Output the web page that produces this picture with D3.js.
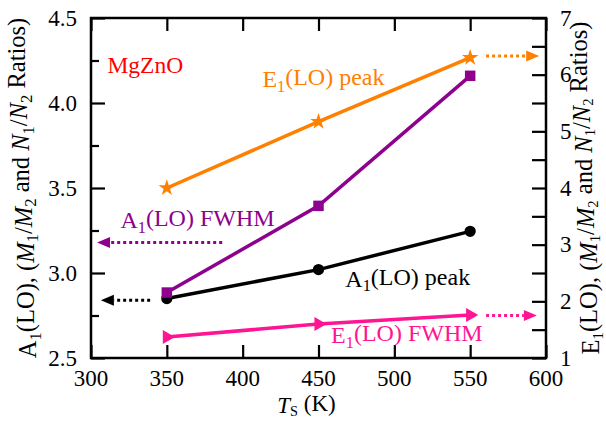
<!DOCTYPE html>
<html><head><meta charset="utf-8">
<script src="https://cdn.jsdelivr.net/npm/d3@7"></script>
<style>body{margin:0;background:#fff} svg text{font-family:"Liberation Serif","Times New Roman",serif}</style></head>
<body><script>
// Substrate temperature (K)
const temps = [350, 450, 550];
// Left-axis series
const a1Peak = [2.85, 3.02, 3.245];
const a1Fwhm = [2.885, 3.395, 4.16];
// Right-axis series
const e1Peak = [4.0, 5.17, 6.3];
const e1Fwhm = [1.37, 1.6, 1.76];
// Axis ticks
const xTicks = [300, 350, 400, 450, 500, 550, 600];
const leftTicks = [2.5, 3.0, 3.5, 4.0, 4.5];
const leftMinor = [2.75, 3.25, 3.75, 4.25];
const rightTicks = [1, 2, 3, 4, 5, 6, 7];
const rightMinor = [1.5, 2.5, 3.5, 4.5, 5.5, 6.5];

const W = 606, H = 421;
const m = {left: 91, right: 546, top: 18, bottom: 358};
const C = {orange: "#ff8000", purple: "#8e008e", pink: "#ff1493", red: "#ff0000", black: "#000"};

const x = d3.scaleLinear().domain([300, 600]).range([m.left, m.right]);
const yL = d3.scaleLinear().domain([2.5, 4.5]).range([m.bottom, m.top]);
const yR = d3.scaleLinear().domain([1, 7]).range([m.bottom, m.top]);

const svg = d3.select("body").append("svg")
  .attr("width", W).attr("height", H);

// text with subscripts / italics
function rich(sel, parts, subSize, subShift) {
  let shift = 0;
  const down = subShift == null ? 0.28 : subShift;
  parts.forEach(p => {
    const target = p.sub ? down : 0;
    const ts = sel.append("tspan").text(p.t).attr("dy", (target - shift) + "em");
    if (p.sub) ts.attr("font-size", subSize || "68%");
    if (p.it) ts.attr("font-style", "italic");
    shift = target;
  });
  return sel;
}

// axes (ticks pointing inward, mirrored on top)
function tickAxis(axis, sel) { sel.call(axis); sel.select(".domain").remove(); sel.selectAll("text").remove(); }
const tickStyle = g => g.selectAll("line").attr("stroke", "#000").attr("stroke-width", 2.2);

svg.append("g").attr("transform", `translate(0,${m.bottom})`)
  .call(g => tickAxis(d3.axisTop(x).tickValues(xTicks).tickSize(13), g)).call(tickStyle);
svg.append("g").attr("transform", `translate(0,${m.top})`)
  .call(g => tickAxis(d3.axisBottom(x).tickValues(xTicks).tickSize(13), g)).call(tickStyle);
svg.append("g").attr("transform", `translate(${m.left},0)`)
  .call(g => tickAxis(d3.axisRight(yL).tickValues(leftTicks).tickSize(14), g)).call(tickStyle);
svg.append("g").attr("transform", `translate(${m.left},0)`)
  .call(g => tickAxis(d3.axisRight(yL).tickValues(leftMinor).tickSize(8), g)).call(tickStyle);
svg.append("g").attr("transform", `translate(${m.right},0)`)
  .call(g => tickAxis(d3.axisLeft(yR).tickValues(rightTicks).tickSize(14), g)).call(tickStyle);
svg.append("g").attr("transform", `translate(${m.right},0)`)
  .call(g => tickAxis(d3.axisLeft(yR).tickValues(rightMinor).tickSize(14), g)).call(tickStyle);

// frame
svg.append("rect").attr("x", m.left).attr("y", m.top)
  .attr("width", m.right - m.left).attr("height", m.bottom - m.top)
  .attr("fill", "none").attr("stroke", "#000").attr("stroke-width", 2.5);

// tick labels
svg.append("g").selectAll("text").data(xTicks).join("text")
  .attr("x", d => x(d)).attr("y", 386).attr("text-anchor", "middle")
  .attr("font-size", 23).text(d => d);
svg.append("g").selectAll("text").data(leftTicks).join("text")
  .attr("x", 77).attr("y", d => yL(d)).attr("dy", "0.33em").attr("text-anchor", "end")
  .attr("font-size", 23).text(d3.format(".1f"));
svg.append("g").selectAll("text").data(rightTicks).join("text")
  .attr("x", 560).attr("y", d => yR(d)).attr("dy", "0.33em").attr("text-anchor", "start")
  .attr("font-size", 23).text(d => d);

// axis titles
const ratioParts = [{t: ", ("}, {t: "M", it: true}, {t: "1", sub: true}, {t: "/"}, {t: "M", it: true},
  {t: "2", sub: true}, {t: " and "}, {t: "N", it: true}, {t: "1", sub: true}, {t: "/"}, {t: "N", it: true},
  {t: "2", sub: true}, {t: " Ratios)"}];
rich(svg.append("text").attr("transform", `translate(36,${(m.top + m.bottom) / 2}) rotate(-90)`)
  .attr("text-anchor", "middle").attr("font-size", 24.5),
  [{t: "A"}, {t: "1", sub: true}, {t: "(LO)"}].concat(ratioParts));
rich(svg.append("text").attr("transform", `translate(599,${(m.top + m.bottom) / 2}) rotate(-90)`)
  .attr("text-anchor", "middle").attr("font-size", 24.5),
  [{t: "E"}, {t: "1", sub: true}, {t: "(LO)"}].concat(ratioParts), "60%", 0.24);
rich(svg.append("text").attr("x", (m.left + m.right) / 2 - 12).attr("y", 413)
  .attr("text-anchor", "middle").attr("font-size", 23),
  [{t: "T", it: true}, {t: "S", sub: true}, {t: " (K)"}], "62%", 0.2);

// series
const series = [
  {vals: a1Peak, y: yL, color: C.black, sym: d3.symbolCircle, size: 100, rot: 0},
  {vals: a1Fwhm, y: yL, color: C.purple, sym: d3.symbolSquare, size: 110, rot: 0},
  {vals: e1Fwhm, y: yR, color: C.pink, sym: d3.symbolTriangle, size: 85, rot: 90},
  {vals: e1Peak, y: yR, color: C.orange, sym: d3.symbolStar, size: 85, rot: 0},
];
series.forEach(s => {
  const pts = temps.map((t, i) => [x(t), s.y(s.vals[i])]);
  svg.append("path").attr("d", d3.line()(pts))
    .attr("fill", "none").attr("stroke", s.color).attr("stroke-width", 3.5);
  svg.append("g").selectAll("path").data(pts).join("path")
    .attr("d", d3.symbol(s.sym, s.size))
    .attr("transform", d => `translate(${d[0]},${d[1]}) rotate(${s.rot})`)
    .attr("fill", s.color);
});

// dotted arrows pointing to the relevant axis
function arrow(x0, x1, yPix, color) {
  const dir = Math.sign(x1 - x0), len = 13, hw = 5.5;
  svg.append("line").attr("x1", x0).attr("x2", x1 - dir * len).attr("y1", yPix).attr("y2", yPix)
    .attr("stroke", color).attr("stroke-width", 3).attr("stroke-dasharray", "3,3");
  svg.append("path")
    .attr("d", `M${x1},${yPix}L${x1 - dir * len},${yPix - hw}L${x1 - dir * len},${yPix + hw}Z`)
    .attr("fill", color);
}
arrow(x(386.5), x(304), yL(3.18), C.purple);
arrow(x(339), x(306.5), yL(2.84), C.black);
arrow(x(560.5), x(595.5), yR(6.33), C.orange);
arrow(x(560.5), x(594), yR(1.75), C.pink);

// labels
function label(xv, yv, color, parts, size) {
  rich(svg.append("text").attr("x", x(xv)).attr("y", yL(yv)).attr("fill", color)
    .attr("font-size", size || 24), parts);
}
label(310.8, 4.174, C.red, [{t: "MgZnO"}], 23.5);
label(413, 4.092, C.orange, [{t: "E"}, {t: "1", sub: true}, {t: "(LO) peak"}]);
label(319.4, 3.264, C.purple, [{t: "A"}, {t: "1", sub: true}, {t: "(LO) FWHM"}]);
label(467.7, 2.919, C.black, [{t: "A"}, {t: "1", sub: true}, {t: "(LO) peak"}]);
label(458.3, 2.588, C.pink, [{t: "E"}, {t: "1", sub: true}, {t: "(LO) FWHM"}]);
</script></body></html>
